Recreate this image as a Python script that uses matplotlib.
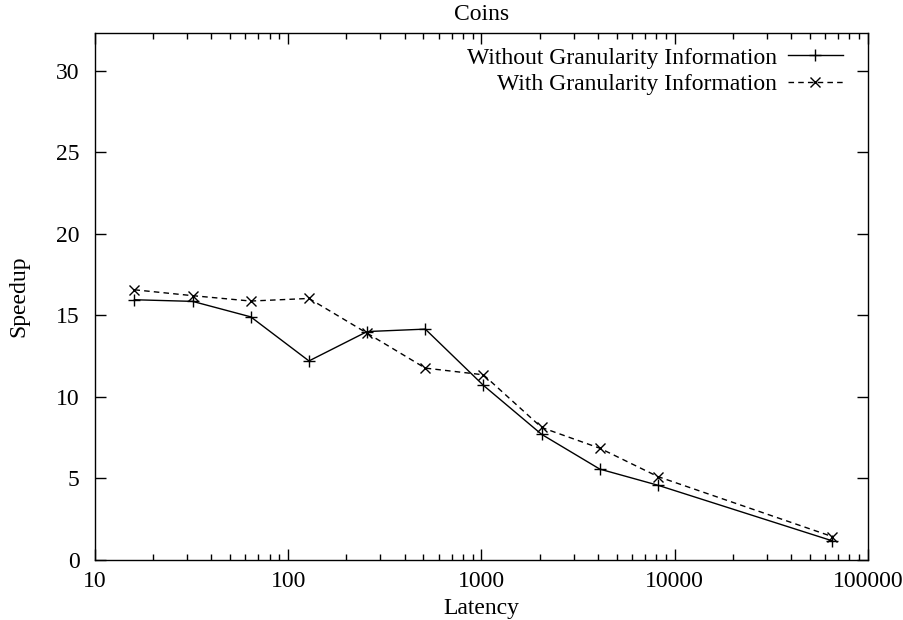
import matplotlib
matplotlib.use("Agg")
from matplotlib import pyplot as plt
from matplotlib import ticker
import numpy as np

# latency values (log scale) and speedups
latency = [16, 32, 64, 128, 256, 512, 1024, 2048, 4096, 8192, 65536]
without_gran = [15.95, 15.85, 14.9, 12.2, 14.0, 14.15, 10.7, 7.7, 5.57, 4.58, 1.17]
with_gran = [16.56, 16.2, 15.87, 16.03, 13.9, 11.76, 11.35, 8.12, 6.85, 5.11, 1.43]

x_ticks = [10, 100, 1000, 10000, 100000]
y_ticks = [0, 5, 10, 15, 20, 25, 30]

plt.rcParams['font.family'] = ['Liberation Serif', 'DejaVu Serif']
fs = 17

fig = plt.figure(figsize=(9.04, 6.2), dpi=100)
ax = fig.add_axes([0.1051, 0.0968, 0.855, 0.8500])

ax.plot(latency, without_gran, color='black', linewidth=1, linestyle='-',
        marker='+', markersize=9, markeredgewidth=1,
        label='Without Granularity Information')
ax.plot(latency, with_gran, color='black', linewidth=1, linestyle=(0, (4, 3)),
        marker='x', markersize=7, markeredgewidth=1,
        label='With Granularity Information')

ax.set_xscale('log')
ax.set_xlim(10, 100000)
ax.set_ylim(0, 32.3)
ax.set_xticks(x_ticks)
ax.xaxis.set_major_formatter(ticker.FuncFormatter(lambda v, p: '%d' % v))
ax.xaxis.set_minor_locator(ticker.LogLocator(base=10, subs=np.arange(2, 10)))
ax.xaxis.set_minor_formatter(ticker.NullFormatter())
ax.set_yticks(y_ticks)

ax.tick_params(which='major', direction='in', length=8, width=1,
               top=True, right=True, labelsize=fs)
ax.tick_params(axis='x', which='major', pad=8)
ax.tick_params(axis='y', which='major', pad=11)
ax.tick_params(which='minor', direction='in', length=4, width=1,
               top=True, right=True)
for s in ax.spines.values():
    s.set_linewidth(1)

ax.set_title('Coins', fontsize=fs, pad=9)
ax.set_xlabel('Latency', fontsize=fs, labelpad=4)
ax.set_ylabel('Speedup', fontsize=fs, labelpad=19)

ax.legend(loc='upper right', bbox_to_anchor=(0.968, 0.973), frameon=False,
          markerfirst=False, handlelength=2.35, handletextpad=0.45,
          labelspacing=0.2, borderaxespad=0, borderpad=0, fontsize=fs)

fig.savefig('out.png', dpi=100)
